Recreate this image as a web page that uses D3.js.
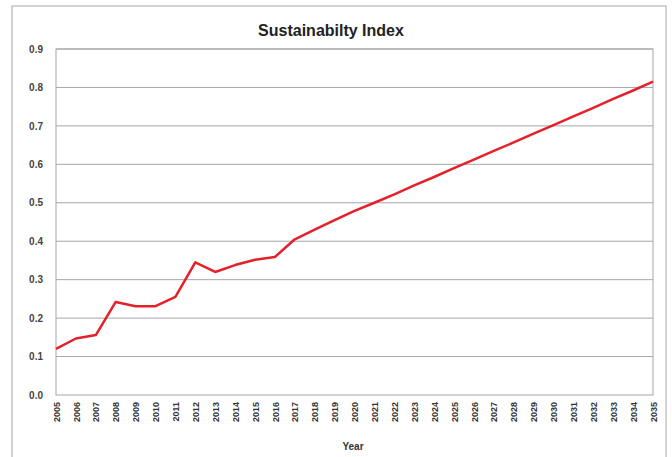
<!DOCTYPE html>
<html>
<head>
<meta charset="utf-8">
<script src="https://cdn.jsdelivr.net/npm/d3@7"></script>
<style>
  html, body { margin: 0; padding: 0; background: #fff; }
  svg { display: block; }
  text { font-family: "Liberation Sans", Arial, sans-serif; }
</style>
</head>
<body>
<svg id="chart" width="672" height="457"></svg>
<script>
// Sustainability index by year, 2005–2035
const years = d3.range(2005, 2036).map(String);
const indexValues = [
  0.120, 0.147, 0.156, 0.242, 0.231, 0.231, 0.255, 0.345, 0.320, 0.338,
  0.352, 0.359, 0.405, 0.430, 0.455, 0.479, 0.500, 0.522, 0.545, 0.567,
  0.590, 0.612, 0.635, 0.657, 0.680, 0.702, 0.725, 0.747, 0.770, 0.792,
  0.815
];
const yTicks = [0, 0.1, 0.2, 0.3, 0.4, 0.5, 0.6, 0.7, 0.8, 0.9];
const chartTitle = "Sustainabilty Index";
const xTitle = "Year";

const svg = d3.select("#chart");
const W = 672, H = 457;
const margin = { top: 49, right: 19, bottom: 62, left: 56 };
const innerW = W - margin.left - margin.right;
const innerH = H - margin.top - margin.bottom;

// outer chart frame
svg.append("rect")
  .attr("x", 12).attr("y", 6)
  .attr("width", 654).attr("height", 460)
  .attr("fill", "#fff")
  .attr("stroke", "#c4c4c4").attr("stroke-width", 1.5);

const x = d3.scalePoint().domain(years).range([0, innerW]).padding(0);
const y = d3.scaleLinear().domain([0, 0.9]).range([innerH, 0]);

const g = svg.append("g").attr("transform", `translate(${margin.left},${margin.top})`);

// horizontal gridlines
g.append("g")
  .selectAll("line")
  .data(yTicks.slice(1))
  .join("line")
  .attr("x1", 0).attr("x2", innerW)
  .attr("y1", d => y(d)).attr("y2", d => y(d))
  .attr("stroke", "#a6a6a6").attr("stroke-width", 1);

// plot-area border
g.append("rect")
  .attr("x", 0).attr("y", 0)
  .attr("width", innerW).attr("height", innerH)
  .attr("fill", "none")
  .attr("stroke", "#a6a6a6").attr("stroke-width", 1);

// y axis labels
const yAxis = d3.axisLeft(y).tickValues(yTicks).tickFormat(d3.format(".1f")).tickSize(0).tickPadding(13);
g.append("g").call(yAxis)
  .call(a => a.select(".domain").remove())
  .selectAll("text")
  .attr("font-size", 10).attr("font-weight", "bold").attr("fill", "#444")
  .attr("font-family", "'Liberation Sans', Arial, sans-serif");

// x axis labels, rotated
const xAxis = d3.axisBottom(x).tickSize(0).tickPadding(0);
g.append("g").attr("transform", `translate(0,${innerH})`).call(xAxis)
  .call(a => a.select(".domain").remove())
  .selectAll("text")
  .attr("font-size", 9).attr("font-weight", "bold").attr("fill", "#333")
  .attr("font-family", "'Liberation Sans', Arial, sans-serif")
  .attr("text-anchor", "end")
  .attr("dy", "0.35em")
  .attr("transform", "translate(0,7) rotate(-90)");

// data line
const line = d3.line()
  .x((d, i) => x(years[i]))
  .y(d => y(d));
g.append("path")
  .datum(indexValues)
  .attr("d", line)
  .attr("fill", "none")
  .attr("stroke", "#e4212b")
  .attr("stroke-width", 2.5)
  .attr("stroke-linejoin", "round");

// titles
svg.append("text")
  .attr("x", 331).attr("y", 36)
  .attr("text-anchor", "middle")
  .attr("font-size", 16).attr("font-weight", "bold").attr("fill", "#222")
  .text(chartTitle);

svg.append("text")
  .attr("x", 353).attr("y", 450)
  .attr("text-anchor", "middle")
  .attr("font-size", 10).attr("font-weight", "bold").attr("fill", "#333")
  .text(xTitle);
</script>
</body>
</html>
